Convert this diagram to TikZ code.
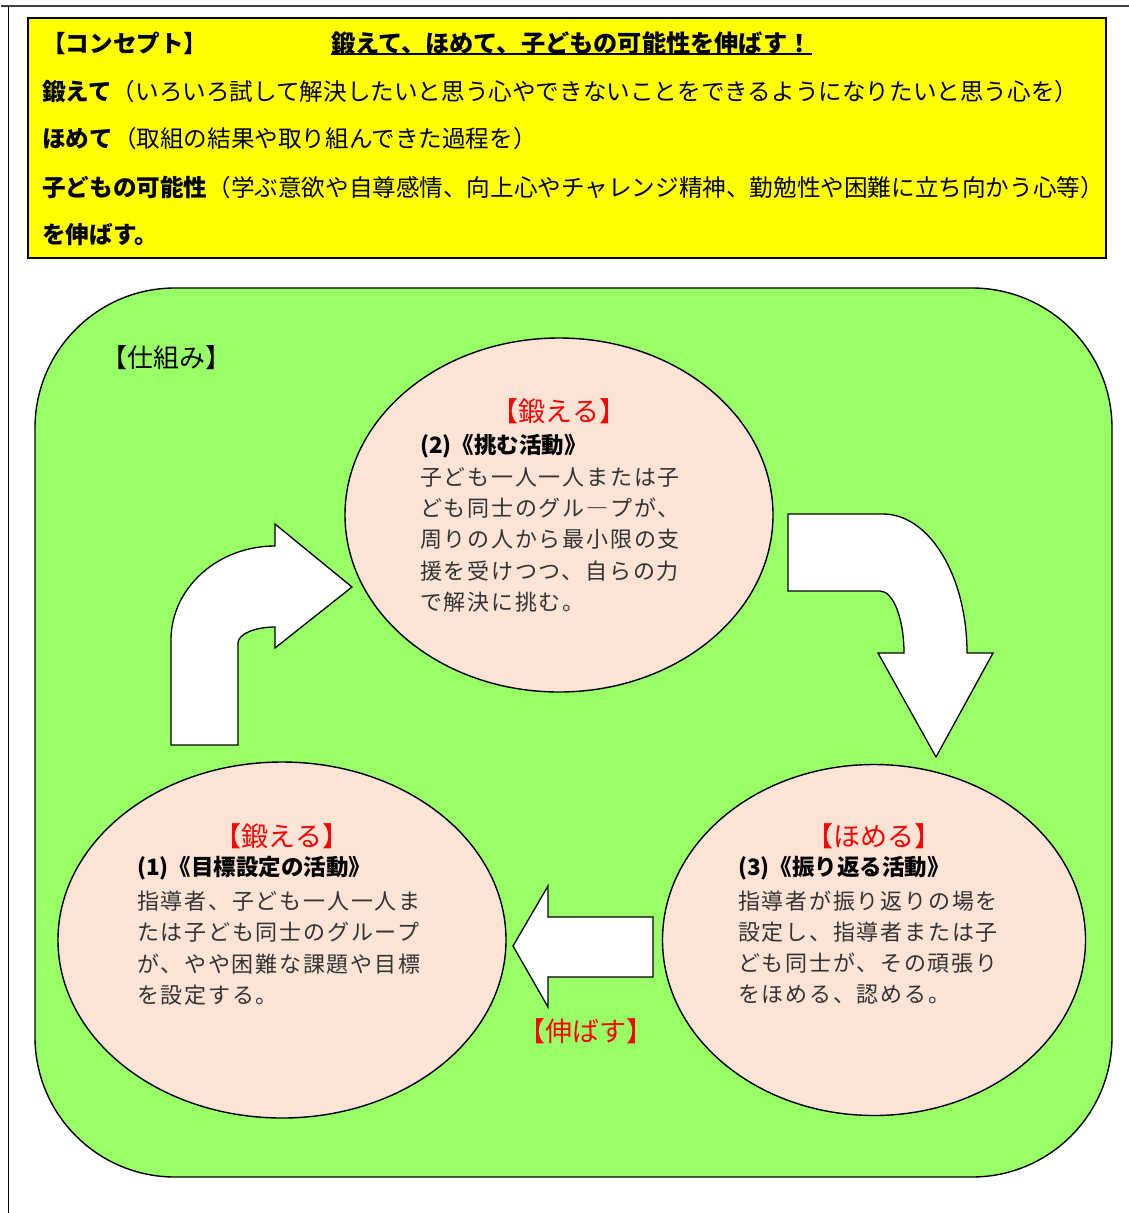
\documentclass[tikz,border=0pt]{standalone}
\usepackage{fontspec}
\setmainfont{Noto Sans CJK JP}
\newfontfamily\jpbody[LetterSpace=8]{Noto Sans CJK JP}
\usetikzlibrary{shapes.geometric}
\definecolor{frameGreen}{RGB}{153,255,102}
\definecolor{peach}{RGB}{251,228,214}
\definecolor{conceptYellow}{RGB}{255,255,0}
\begin{document}
\begin{tikzpicture}[x=1pt,y=-1pt,
  yline/.style={font=\fontsize{23.6}{28}\selectfont, anchor=west, inner sep=0},
  ybold/.style={yline, font=\bfseries\fontsize{23.6}{28}\selectfont},
  redlbl/.style={font=\fontsize{27}{32}\selectfont, text=red, inner sep=0},
  head/.style={font=\bfseries\fontsize{22.5}{27}\selectfont, anchor=west, inner sep=0},
  body/.style={font=\jpbody\fontsize{22}{26}\selectfont, text=black!80, anchor=west, inner sep=0},
  oval/.style={ellipse, draw, fill=peach, line width=1.4, inner sep=0},
  blockarrow/.style={draw, fill=white, line width=1.3, line join=miter}]
\useasboundingbox (0,0) rectangle (1129,1213);
% page frame
\draw[line width=2.5, black!75] (1,6) -- (1129,6);
\draw[line width=1] (8,6) -- (8,1213);
% concept box
\node[draw, fill=conceptYellow, line width=1.8, minimum width=1078, minimum height=240, inner sep=0] (concept) at (567,138) {};
\node[ybold] (c1) at (42,43) {【コンセプト】};
\node[ybold, font=\bfseries\fontsize{24.2}{28}\selectfont] (title) at (331,43) {鍛えて、ほめて、子どもの可能性を伸ばす！};
\draw[line width=1.5] ([yshift=-2pt]title.base west) -- ([yshift=-2pt]title.base east);
\node[yline] (c2) at (42,91) {{\bfseries 鍛えて}（いろいろ試して解決したいと思う心やできないことをできるようになりたいと思う心を）};
\node[yline] (c3) at (42,139) {{\bfseries ほめて}（取組の結果や取り組んできた過程を）};
\node[yline] (c4) at (42,187) {{\bfseries 子どもの可能性}（学ぶ意欲や自尊感情、向上心やチャレンジ精神、勤勉性や困難に立ち向かう心等）};
\node[ybold] (c5) at (42,235) {を伸ばす。};
% green frame
\node[draw, fill=frameGreen, line width=1.4, rounded corners=140pt, minimum width=1077, minimum height=889, inner sep=0] (frame) at (573.5,732.5) {};
\node[font=\fontsize{26}{30}\selectfont, inner sep=0] (shikumi) at (166,358) {【仕組み】};
% ellipses
\node[oval, minimum width=428, minimum height=354] (e2) at (559,515) {};
\node[oval, minimum width=448, minimum height=356] (e1) at (282,940) {};
\node[oval, minimum width=423, minimum height=351] (e3) at (874,940) {};
% block arrows
\draw[blockarrow] (171,745) -- (171,640) .. controls (171,588.1) and (217.6,546) .. (275,546) -- (275,524) -- (352,587) -- (275,648) -- (275,627) .. controls (254.6,627) and (238,634.2) .. (238,643) -- (238,745) -- cycle;
\draw[blockarrow] (788,514) -- (883,514) .. controls (929.4,514) and (967,576.2) .. (967,653) -- (993,653) -- (936,757) -- (878,653) -- (904,653) .. controls (904,618.8) and (893.3,591) .. (880,591) -- (788,591) -- cycle;
\draw[blockarrow] (653,917) -- (548,917) -- (548,886) -- (513,946) -- (548,1007) -- (548,977) -- (653,977) -- cycle;
% top ellipse text
\node[redlbl] (r2) at (559,411) {【鍛える】};
\node[head] (h2) at (420,446) {(2)《挑む活動》};
\foreach \t [count=\i] in {子ども一人一人または子, ども同士のグル―プが、, 周りの人から最小限の支, 援を受けつつ、自らの力, で解決に挑む。}
  \node[body] (b2-\i) at (420,{477+31.3*(\i-1)}) {\t};
% bottom-left text
\node[redlbl] (r1) at (282,836) {【鍛える】};
\node[head] (h1) at (137,868) {(1)《目標設定の活動》};
\foreach \t [count=\i] in {指導者、子ども一人一人ま, たは子ども同士のグループ, が、やや困難な課題や目標, を設定する。}
  \node[body] (b1-\i) at (137,{901+31.3*(\i-1)}) {\t};
% bottom-right text
\node[redlbl] (r3) at (874,836) {【ほめる】};
\node[head] (h3) at (738,868) {(3)《振り返る活動》};
\foreach \t [count=\i] in {指導者が振り返りの場を, 設定し、指導者または子, ども同士が、その頑張り, をほめる、認める。}
  \node[body] (b3-\i) at (738,{901+31.3*(\i-1)}) {\t};
% stretch label
\node[redlbl] (nobasu) at (586,1031) {【伸ばす】};
\end{tikzpicture}
\end{document}
